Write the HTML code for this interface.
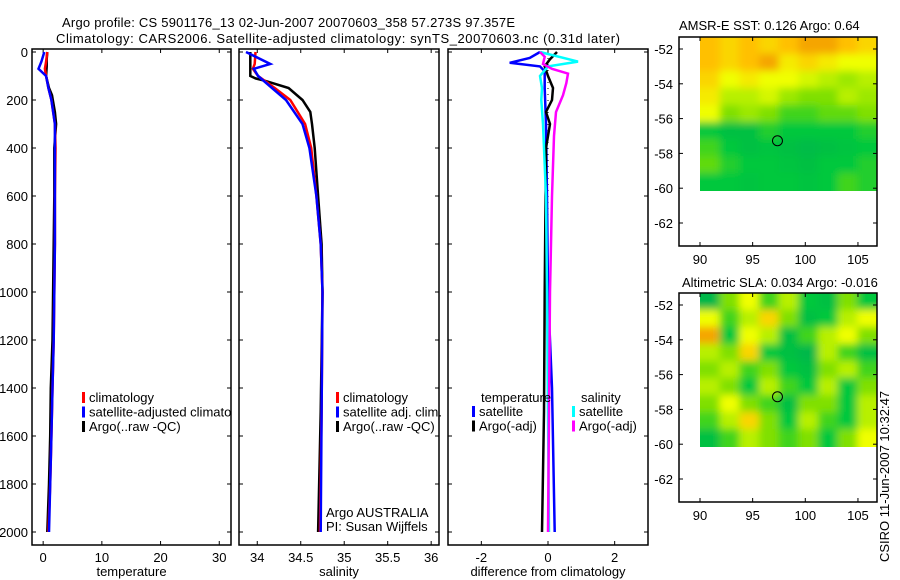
<!DOCTYPE html>
<html><head><meta charset="utf-8"><style>
body{margin:0;background:#fff;}
svg{display:block;font-family:"Liberation Sans",sans-serif;font-size:13px;}
</style></head><body>
<svg id="c" width="900" height="580" xmlns="http://www.w3.org/2000/svg">
<defs>
<clipPath id="cp1"><rect x="32" y="49" width="199" height="496"/></clipPath>
<clipPath id="cm1"><rect x="700" y="37" width="177" height="154"/></clipPath>
<clipPath id="cm2"><rect x="700" y="293" width="177" height="154"/></clipPath>
<filter id="bl" x="-50%" y="-50%" width="200%" height="200%"><feGaussianBlur stdDeviation="4"/></filter>
</defs>
<g id="g"></g>
<text x="62" y="27" textLength="453">Argo profile: CS 5901176_13 02-Jun-2007 20070603_358 57.273S 97.357E</text>
<text x="56" y="43" textLength="564">Climatology: CARS2006. Satellite-adjusted climatology: synTS_20070603.nc (0.31d later)</text>
<text x="679" y="30">AMSR-E SST: 0.126 Argo: 0.64</text>
<text x="682" y="287">Altimetric SLA: 0.034 Argo: -0.016</text>
<text transform="translate(889,562) rotate(-90)">CSIRO 11-Jun-2007 10:32:47</text>
</svg>
<script>
// ---- data ----
const depthTicks=[0,200,400,600,800,1000,1200,1400,1600,1800,2000];
const tempTicks=[0,10,20,30];
const salTicks=[34,34.5,35,35.5,36];
const diffTicks=[-2,0,2];
const tDepthArgo=[0,30,60,100,150,180,250,300,400,600,800,1000,1200,1400,1600,1800,2000];
const tArgo=[0.7,0.6,0.6,0.5,1.0,1.5,2.0,2.2,1.9,1.9,1.8,1.7,1.6,1.3,1.2,1.0,0.7];
const tDepthClim=[0,40,70,100,150,200,300,400,600,800,1000,1200,1400,1600,1800,2000];
const tClim=[0.7,0.5,0.3,0.5,0.9,1.4,2.0,2.1,2.0,2.0,1.9,1.8,1.6,1.4,1.2,0.9];
const tSat=[0.2,-0.3,-0.8,0.5,0.9,1.4,2.0,2.0,2.0,2.0,1.9,1.8,1.6,1.4,1.2,1.0];
const sDepthArgo=[0,100,110,120,150,200,250,300,400,600,800,1000,1500,2000];
const sArgo=[33.92,33.92,33.98,34.09,34.36,34.52,34.61,34.63,34.66,34.70,34.74,34.75,34.73,34.70];
const sDepthClim=[0,50,70,100,150,200,300,400,600,800,1000,1500,2000];
const sClim=[33.98,33.97,33.95,34.01,34.2,34.38,34.55,34.62,34.68,34.73,34.75,34.74,34.72];
const sSat=[33.87,34.15,33.96,34.01,34.17,34.33,34.52,34.60,34.68,34.73,34.75,34.74,34.73];
const dDepthT=[0,25,45,60,80,150,300,600,1000,1400,2000];
const dTSat=[-0.24,-0.55,-1.15,-0.24,-0.1,-0.1,-0.06,-0.03,0,0.12,0.2];
const dDepthTA=[0,30,60,100,150,200,250,300,400,1000,1500,2000];
const dTArgo=[0.27,0.06,-0.1,0,0.15,0.12,-0.06,0.06,-0.06,-0.1,-0.12,-0.18];
const dDepthS=[0,40,60,100,150,200,300,600,1000,2000];
const dSSat=[-0.24,0.9,0,-0.24,-0.18,-0.2,-0.15,-0.06,-0.03,0.03];
const dDepthSA=[0,20,50,70,90,130,180,250,350,600,1000,2000];
const dSArgo=[-0.24,-0.1,-0.15,0.12,0.6,0.55,0.45,0.24,0.18,0.12,0.06,0];
const latTicks=[-52,-54,-56,-58,-60,-62];
const lonTicks=[90,95,100,105];
const sstGrid=[
[.85,.8,.85,.8,.85,.9,.9,.85,.8],
[.85,.8,.85,.9,.75,.8,.75,.7,.7],
[.8,.7,.75,.7,.7,.65,.6,.55,.6],
[.75,.6,.6,.65,.55,.5,.5,.6,.55],
[.7,.5,.55,.5,.4,.4,.45,.45,.5],
[.3,.2,.2,.35,.3,.3,.3,.3,.35],
[.4,.3,.2,.25,.2,.15,.2,.25,.3],
[.45,.35,.3,.3,.25,.2,.3,.3,.35],
[.3,.3,.25,.3,.3,.25,.3,.4,.35]];
const slaGrid=[
[.1,.5,.7,.4,.6,.3,.2,.5,.3],
[.7,.4,.6,.8,.5,.2,.3,.6,.7],
[.9,.3,.7,.6,.2,.4,.6,.7,.5],
[.6,.5,.8,.3,.2,.1,.6,.4,.2],
[.5,.6,.4,.5,.3,.2,.5,.6,.4],
[.6,.5,.3,.6,.4,.3,.6,.3,.5],
[.5,.7,.5,.4,.2,.5,.5,.3,.6],
[.4,.6,.8,.5,.3,.6,.4,.3,.6],
[.2,.4,.6,.5,.4,.5,.3,.5,.7]];
const floatLon=97.357, floatLat=-57.273;

// ---- drawing ----
const NS="http://www.w3.org/2000/svg", G=document.getElementById('g');
function el(t,a,p){const e=document.createElementNS(NS,t);for(const k in a)e.setAttribute(k,a[k]);(p||G).appendChild(e);return e;}
const Y=d=>52+d*0.24;
function panel(name,x0,x1,xmin,xmax,ticks,label,showY){
  const X=v=>x0+(v-xmin)/(xmax-xmin)*(x1-x0);
  const f=el('rect',{x:x0,y:49,width:x1-x0,height:496,fill:'none',stroke:'#000','stroke-width':1.5});
  
  
  depthTicks.forEach(d=>{
    el('line',{x1:x0,x2:x0+4,y1:Y(d),y2:Y(d),stroke:'#000'});
    el('line',{x1:x1-4,x2:x1,y1:Y(d),y2:Y(d),stroke:'#000'});
    if(showY){const t=el('text',{x:x0-4,y:Y(d)+5,'text-anchor':'end'});t.textContent=d;
      
      }
  });
  ticks.forEach(v=>{
    el('line',{x1:X(v),x2:X(v),y1:49,y2:53,stroke:'#000'});
    el('line',{x1:X(v),x2:X(v),y1:541,y2:545,stroke:'#000'});
    const t=el('text',{x:X(v),y:562,'text-anchor':'middle'});t.textContent=v;
    
    
  });
  const l=el('text',{x:(x0+x1)/2,y:576,'text-anchor':'middle'});l.textContent=label;
  
  
  return X;
}
function line(X,ds,vs,col,w,nm){
  const p=el('polyline',{points:ds.map((d,i)=>X(vs[i]).toFixed(1)+','+Y(d).toFixed(1)).join(' '),fill:'none',stroke:col,'stroke-width':w});
  
  
}
function legend(x,y,items,nm,parent){
  items.forEach((it,i)=>{
    if(it[1])el('rect',{x:x,y:y+i*14.5-10,width:3,height:11,fill:it[1]},parent);
    const t=el('text',{x:x+(it[1]?7:0),y:y+i*14.5},parent);t.textContent=it[0];
    
    
  });
}
const XT=panel('temperature-panel',32,231,-1.9,32,tempTicks,'temperature',true);
line(XT,tDepthArgo,tArgo,'#000',2.5,'temp-argo-line');
line(XT,tDepthClim,tClim,'#f00',2.5,'temp-clim-line');
line(XT,tDepthClim,tSat,'#00f',2.5,'temp-sat-line');
const lg1=el('g',{'clip-path':'url(#cp1)'});
legend(82,402,[['climatology','#f00'],['satellite-adjusted climatology','#00f'],['Argo(..raw -QC)','#000']],'temp-legend',lg1);
const XS=panel('salinity-panel',239,439,33.79,36.09,salTicks,'salinity',false);
line(XS,sDepthArgo,sArgo,'#000',2.5,'sal-argo-line');
line(XS,sDepthClim,sClim,'#f00',2.5,'sal-clim-line');
line(XS,sDepthClim,sSat,'#00f',2.5,'sal-sat-line');
legend(336,402,[['climatology','#f00'],['satellite adj. clim.','#00f'],['Argo(..raw -QC)','#000']],'sal-legend');
const a1=el('text',{x:326,y:517});a1.textContent='Argo AUSTRALIA';


const a2=el('text',{x:326,y:531});a2.textContent='PI: Susan Wijffels';


const XD=panel('difference-panel',448,648,-3,3,diffTicks,'difference from climatology',false);
el('line',{x1:XD(0),x2:XD(0),y1:Y(0),y2:Y(2000),stroke:'#000','stroke-dasharray':'1 5'});
line(XD,dDepthT,dTSat,'#00f',2.5,'diff-temp-sat-line');
line(XD,dDepthTA,dTArgo,'#000',2.5,'diff-temp-argo-line');
line(XD,dDepthS,dSSat,'#0ff',2.5,'diff-sal-sat-line');
line(XD,dDepthSA,dSArgo,'#f0f',2.5,'diff-sal-argo-line');
legend(481,402,[['temperature',null]],'diff-legend');
legend(472,416,[['satellite','#00f'],['Argo(-adj)','#000']],'diff-legend');
legend(581,402,[['salinity',null]],'diff-legend');
legend(572,416,[['satellite','#0ff'],['Argo(-adj)','#f0f']],'diff-legend');

function cmap(v){
  const stops=[[0,[0,176,80]],[.3,[0,200,60]],[.5,[128,224,0]],[.7,[240,255,0]],[.85,[255,192,0]],[1,[224,112,0]]];
  for(let i=1;i<stops.length;i++)if(v<=stops[i][0]){const a=stops[i-1],b=stops[i],t=(v-a[0])/(b[0]-a[0]);
    return 'rgb('+a[1].map((c,k)=>Math.round(c+(b[1][k]-c)*t)).join(',')+')';}
  return 'rgb(224,112,0)';
}
function map(name,top,grid,clip){
  const LX=v=>700+(v-90)*10.53, LY=v=>top+12+(-52-v)*17.4;
  const lon0=90,lon1=106.8,lat0=-51.3,lat1=-60.1;
  const rows=grid.length, cols=grid[0].length;
  const cg=el('g',{'clip-path':'url(#'+clip+')'});
  const bg=el('g',{filter:'url(#bl)'},cg);
  grid.forEach((r,i)=>r.forEach((v,j)=>{
    let xa=LX(lon0+(lon1-lon0)*j/cols), xb=LX(lon0+(lon1-lon0)*(j+1)/cols);
    let ya=LY(lat0+(lat1-lat0)*i/rows), yb=LY(lat0+(lat1-lat0)*(i+1)/rows);
    if(j==0)xa-=15; if(j==cols-1)xb+=15; if(i==0)ya-=15; if(i==rows-1)yb+=15;
    const c=el('rect',{x:xa,y:ya,width:xb-xa+0.5,height:yb-ya+0.5,fill:cmap(v)},bg);
    
    
  }));
  const f=el('rect',{x:679,y:top,width:198,height:209,fill:'none',stroke:'#000','stroke-width':1.5});
  
  
  latTicks.forEach(v=>{
    el('line',{x1:679,x2:683,y1:LY(v),y2:LY(v),stroke:'#000'});
    el('line',{x1:873,x2:877,y1:LY(v),y2:LY(v),stroke:'#000'});
    const t=el('text',{x:673,y:LY(v)+5,'text-anchor':'end'});t.textContent=v;
    
    
  });
  lonTicks.forEach(v=>{
    el('line',{x1:LX(v),x2:LX(v),y1:top,y2:top+4,stroke:'#000'});
    el('line',{x1:LX(v),x2:LX(v),y1:top+205,y2:top+209,stroke:'#000'});
    const t=el('text',{x:LX(v),y:top+227,'text-anchor':'middle'});t.textContent=v;
    
    
  });
  const m=el('circle',{cx:LX(floatLon),cy:LY(floatLat),r:5,fill:'none',stroke:'#000'});
  
  
}
map('sst-map',37,sstGrid,'cm1');
map('sla-map',293,slaGrid,'cm2');
</script>
</body></html>
